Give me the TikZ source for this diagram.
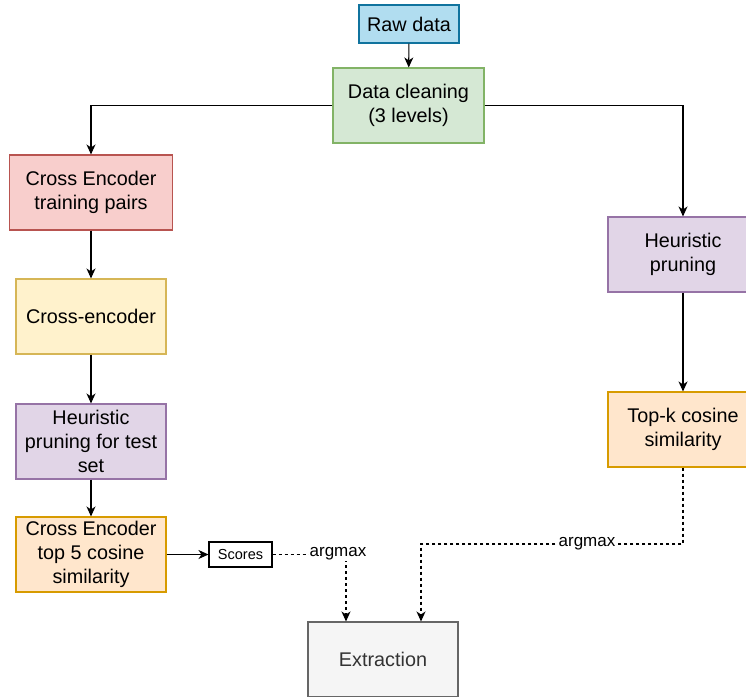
\documentclass[tikz,border=0pt]{standalone}
\usepackage{fontspec}
\setmainfont{Liberation Sans}
\usetikzlibrary{arrows.meta}

\definecolor{blueF}{HTML}{B1DDF0}\definecolor{blueD}{HTML}{10739E}
\definecolor{greenF}{HTML}{D5E8D4}\definecolor{greenD}{HTML}{82B366}
\definecolor{redF}{HTML}{F8CECC}\definecolor{redD}{HTML}{B85450}
\definecolor{yellowF}{HTML}{FFF2CC}\definecolor{yellowD}{HTML}{D6B656}
\definecolor{purpleF}{HTML}{E1D5E7}\definecolor{purpleD}{HTML}{9673A6}
\definecolor{orangeF}{HTML}{FFE6CC}\definecolor{orangeD}{HTML}{D79B00}
\definecolor{greyF}{HTML}{F5F5F5}\definecolor{greyD}{HTML}{666666}
\definecolor{greyT}{HTML}{333333}

\tikzset{
  box/.style={draw, line width=1.1pt, minimum width=150pt, minimum height=75pt,
    inner sep=0pt, align=center, font=\fontsize{19.8}{23.8}\selectfont},
  link/.style={line width=1.1pt, -{Stealth[length=10pt,width=9pt,inset=3pt]}},
  dlink/.style={link, dash pattern=on 3pt off 3pt},
  lbl/.style={fill=white, inner sep=1pt, font=\fontsize{17}{20}\selectfont},
}

\begin{document}
\begin{tikzpicture}[x=1pt,y=-1pt]
\useasboundingbox (0,0) rectangle (746,696);
\clip (0,0) rectangle (746,696);

% pipeline stages
\node[box, fill=blueF, draw=blueD, minimum width=100pt, minimum height=38pt] (raw) at (409,24) {Raw data};
\node[box, fill=greenF, draw=greenD, minimum width=151pt] (clean) at (408.5,105.5) {Data cleaning\\(3 levels)};

% left branch
\node[box, fill=redF, draw=redD, minimum width=163pt] (pairs) at (91,192.5) {Cross Encoder\\training pairs};
\node[box, fill=yellowF, draw=yellowD] (ce) at (91,316.5) {Cross-encoder};
\node[box, fill=purpleF, draw=purpleD] (hpt) at (91,441.5) {Heuristic\\pruning for test\\set};
\node[box, fill=orangeF, draw=orangeD] (top5) at (91,554.5) {Cross Encoder\\top 5 cosine\\similarity};
\node[draw, line width=1.1pt, fill=white, minimum width=63pt, minimum height=25pt, inner sep=0pt,
      font=\fontsize{14.5}{17}\selectfont] (scores) at (240.5,554.5) {Scores};

% right branch
\node[box, fill=purpleF, draw=purpleD] (hpr) at (683,254.5) {Heuristic\\pruning};
\node[box, fill=orangeF, draw=orangeD] (topk) at (683,429.5) {Top-k cosine\\similarity};

% result
\node[box, fill=greyF, draw=greyD, text=greyT] (ext) at (383,659.5) {Extraction};

% connectors
\draw[link] (raw) -- (clean);
\draw[link] (clean.west) -| (pairs.north);
\draw[link] (clean.east) -| (hpr.north);
\draw[link] (pairs) -- (ce);
\draw[link] (ce) -- (hpt);
\draw[link] (hpt) -- (top5);
\draw[link] (top5) -- (scores);
\draw[link] (hpr) -- (topk);

\coordinate (inL) at ([xshift=-37pt]ext.north);
\coordinate (inR) at ([xshift=38pt]ext.north);
\coordinate (bend) at (421,544);

\draw[dlink] (scores.east) -| (inL);
\node[lbl] (am1) at (338,554) {argmax};

\draw[dlink] (topk.south) |- (bend) -- (inR);
\node[lbl] (am2) at (587,544) {argmax};
\end{tikzpicture}
\end{document}
